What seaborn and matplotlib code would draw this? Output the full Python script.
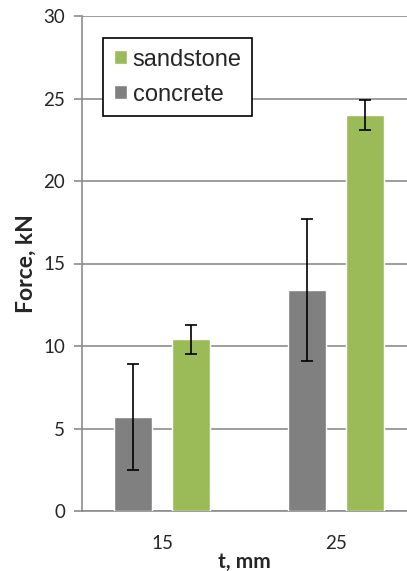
import matplotlib
matplotlib.use("Agg")
import matplotlib.pyplot as plt
import seaborn as sns
import pandas as pd

# Data
thickness = ["15", "25"]
concrete = [5.7, 13.4]
concrete_err = [3.2, 4.3]
sandstone = [10.4, 24.0]
sandstone_err = [0.9, 0.9]
y_ticks = [0, 5, 10, 15, 20, 25, 30]

sns.set_style("white")
plt.rcParams['font.family'] = ['Lato', 'DejaVu Sans']

df = pd.DataFrame({
    "t": thickness * 2,
    "force": concrete + sandstone,
    "material": ["concrete"] * 2 + ["sandstone"] * 2,
})
errs = {"concrete": concrete_err, "sandstone": sandstone_err}
colors = {"concrete": "#808080", "sandstone": "#9BBB59"}

fig = plt.figure(figsize=(4.07, 5.71), dpi=100)
ax = fig.add_axes([82/407, 1 - 511/571, 1 - 82/407, 495/571])

sns.barplot(data=df, x="t", y="force", hue="material",
            hue_order=["concrete", "sandstone"], order=thickness,
            palette=colors, width=0.667, gap=0.345, errorbar=None,
            saturation=1, ax=ax, zorder=3)

for cont, name in zip(ax.containers, ["concrete", "sandstone"]):
    xs = [p.get_x() + p.get_width() / 2 for p in cont.patches]
    ys = [p.get_height() for p in cont.patches]
    ax.errorbar(xs, ys, yerr=errs[name], fmt="none", ecolor="black",
                elinewidth=1.2, capsize=4, capthick=1.2, zorder=4)

ax.set_ylim(0, 30)
ax.set_xlim(-0.46, 1.408)
ax.set_yticks(y_ticks)
ax.yaxis.grid(True, color="#8c8c8c", linewidth=1.2, zorder=0)
ax.set_axisbelow(True)
for s in ["top", "right"]:
    ax.spines[s].set_visible(False)
for s in ["left", "bottom"]:
    ax.spines[s].set_color("#8c8c8c")
    ax.spines[s].set_linewidth(1.2)
ax.tick_params(axis="y", which="both", left=True, length=6, color="#8c8c8c",
               width=1.2, labelsize=13.5, labelcolor="#262626", pad=6)
ax.tick_params(axis="x", bottom=False, labelsize=13.5, labelcolor="#262626", pad=14)

ax.set_xlabel("t, mm", fontsize=15, fontweight="bold", labelpad=0)
ax.set_ylabel("Force, kN", fontsize=16.5, fontweight="bold", labelpad=5)

handles, labels = ax.get_legend_handles_labels()
order = [labels.index("sandstone"), labels.index("concrete")]
leg = ax.legend([handles[i] for i in order], [labels[i] for i in order],
                loc="upper left", bbox_to_anchor=(0.0646, 0.9556),
                borderaxespad=0, frameon=True, fancybox=False,
                edgecolor="black", framealpha=1,
                prop={"family": "Liberation Sans", "size": 17},
                handlelength=0.55, handleheight=0.55, handletextpad=0.25,
                labelspacing=0.55, borderpad=0.45)
leg.get_frame().set_linewidth(1.2)

fig.savefig("out.png", dpi=100)
